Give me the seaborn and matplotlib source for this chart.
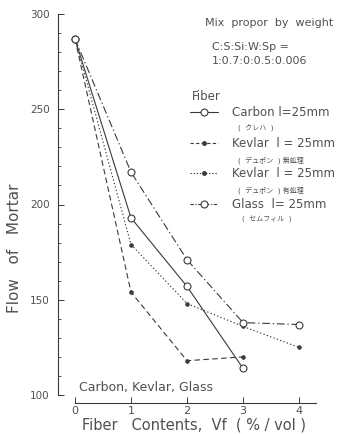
import matplotlib
matplotlib.use("Agg")
import matplotlib.pyplot as plt
from matplotlib.lines import Line2D
from matplotlib.ticker import MultipleLocator
import seaborn as sns
import numpy as np

# ---- data ----
carbon_x = [0, 1, 2, 3]
carbon_y = [287, 193, 157, 114]
kevlar1_x = [0, 1, 2, 3]
kevlar1_y = [287, 154, 118, 120]
kevlar2_x = [0, 1, 2, 3, 4]
kevlar2_y = [287, 179, 148, 136, 125]
glass_x = [0, 1, 2, 3, 4]
glass_y = [287, 217, 171, 138, 137]

y_ticks = [100, 150, 200, 250, 300]
x_ticks = [0, 1, 2, 3, 4]

legend_main = ["Carbon l=25mm", "Kevlar  l = 25mm", "Kevlar  l = 25mm", "Glass  l= 25mm"]
legend_sub = ["(  クレハ  )", "(  デュポン  ) 無処理", "(  デュポン  ) 有処理", "(  セムフィル  )"]

sns.set_style("ticks")
plt.rcParams['font.family'] = ['DejaVu Sans', 'Noto Sans CJK JP']

W, H = 338, 434
fig = plt.figure(figsize=(W / 100, H / 100), dpi=100)

def fx(x):
    return x / W

def fy(y):
    return 1 - y / H

left_px, right_px = 58, 330
top_px, bot_px = 14, 395
ax = fig.add_axes([fx(left_px), fy(bot_px), (right_px - left_px) / W, (bot_px - top_px) / H])

ink = "#3a3a3a"
txt = "#505050"
lw = 0.8

sns.lineplot(x=carbon_x, y=carbon_y, ax=ax, color=ink, linestyle='-', linewidth=lw,
             marker='o', markersize=5, markerfacecolor='white', markeredgecolor=ink, markeredgewidth=0.8)
sns.lineplot(x=kevlar1_x, y=kevlar1_y, ax=ax, color=ink, linestyle=(0, (5, 3)), linewidth=lw,
             marker='o', markersize=2.5, markerfacecolor=ink, markeredgecolor=ink)
sns.lineplot(x=kevlar2_x, y=kevlar2_y, ax=ax, color=ink, linestyle=(0, (1.2, 2)), linewidth=lw,
             marker='o', markersize=2.5, markerfacecolor=ink, markeredgecolor=ink)
sns.lineplot(x=glass_x, y=glass_y, ax=ax, color=ink, linestyle=(0, (7, 2.5, 1.2, 2.5)), linewidth=lw,
             marker='o', markersize=5, markerfacecolor='white', markeredgecolor=ink, markeredgewidth=0.8)

x0_px, unit_px = 75, 56
ax.set_xlim(-(x0_px - left_px) / unit_px, (right_px - x0_px) / unit_px)
ax.set_ylim(100, 300)

ax.spines['top'].set_visible(False)
ax.spines['right'].set_visible(False)
ax.spines['left'].set_color(ink)
ax.spines['left'].set_linewidth(0.8)
ax.spines['bottom'].set_color(ink)
ax.spines['bottom'].set_linewidth(0.8)
ax.spines['bottom'].set_position(('outward', 6))
ax.spines['bottom'].set_bounds(0, 4.3)

ax.set_yticks(y_ticks)
ax.yaxis.set_minor_locator(MultipleLocator(10))
ax.set_xticks(x_ticks)
ax.tick_params(axis='y', which='major', direction='in', length=4, width=0.7, color=ink,
               labelsize=7.5, labelcolor=txt, pad=6)
ax.tick_params(axis='y', which='minor', direction='in', length=2.5, width=0.6, color=ink)
ax.tick_params(axis='x', which='major', direction='in', length=4, width=0.7, color=ink,
               labelsize=8, labelcolor=txt, pad=2)

ax.set_xlabel("Fiber   Contents,  Vf  ( % / vol )", fontsize=10.5, color=txt, labelpad=1)
ax.set_ylabel("Flow   of   Mortar", fontsize=11, color=txt)
ax.yaxis.set_label_coords(-(58 - 22) / (right_px - left_px), (bot_px - 248) / (bot_px - top_px))

# annotations
fig.text(fx(79), fy(388), "Carbon, Kevlar, Glass", fontsize=9, color=txt, va='center', ha='left')
fig.text(fx(205), fy(23), "Mix  propor  by  weight", fontsize=8, color=txt, va='center', ha='left')
fig.text(fx(212), fy(47), "C:S:Si:W:Sp =", fontsize=8, color=txt, va='center', ha='left')
fig.text(fx(212), fy(61), "1:0.7:0:0.5:0.006", fontsize=8, color=txt, va='center', ha='left')
fig.text(fx(192), fy(97), "Fiber", fontsize=8.5, color=txt, va='center', ha='left')

# legend
handles = [
    Line2D([], [], color=ink, linestyle='-', linewidth=lw, marker='o', markersize=5,
           markerfacecolor='white', markeredgecolor=ink, markeredgewidth=0.8),
    Line2D([], [], color=ink, linestyle=(0, (3, 2)), linewidth=lw, marker='o', markersize=2.5,
           markerfacecolor=ink, markeredgecolor=ink),
    Line2D([], [], color=ink, linestyle=(0, (1.2, 1.6)), linewidth=lw, marker='o', markersize=2.5,
           markerfacecolor=ink, markeredgecolor=ink),
    Line2D([], [], color=ink, linestyle=(0, (3, 1.5, 1, 1.5)), linewidth=lw, marker='o', markersize=5,
           markerfacecolor='white', markeredgecolor=ink, markeredgewidth=0.8),
]
leg = fig.legend(handles, legend_main, loc='upper left', bbox_to_anchor=(fx(190), fy(106)),
                 frameon=False, fontsize=8.5,
                 handlelength=2.4, handletextpad=1.15, labelspacing=1.5, borderpad=0,
                 borderaxespad=0)
for t in leg.get_texts():
    t.set_color(txt)

sub_y = [128, 160, 190, 219]
sub_x = [238, 238, 238, 242]
for s, x, y in zip(legend_sub, sub_x, sub_y):
    fig.text(fx(x), fy(y), s, fontsize=5, color=txt, va='center', ha='left')

fig.savefig("out.png", dpi=100)
